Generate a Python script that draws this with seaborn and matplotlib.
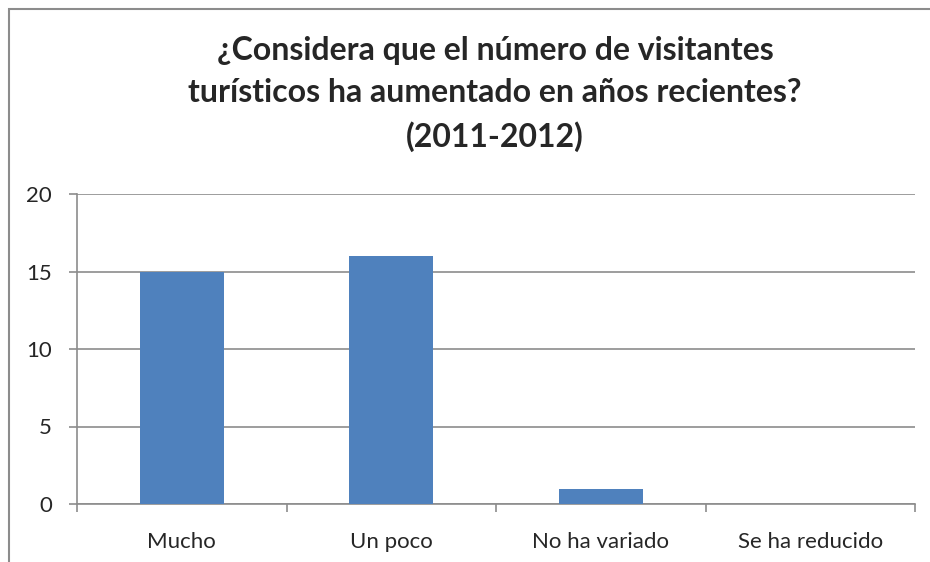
import matplotlib
matplotlib.use("Agg")
import matplotlib.pyplot as plt
import seaborn as sns
import pandas as pd
from matplotlib.patches import Rectangle

categories = ["Mucho", "Un poco", "No ha variado", "Se ha reducido"]
values = [15, 16, 1, 0]
yticks = [0, 5, 10, 15, 20]
title = "¿Considera que el número de visitantes\nturísticos ha aumentado en años recientes?\n(2011-2012)"

sns.set_style("white")
plt.rcParams['font.family'] = ['Lato', 'DejaVu Sans']

df = pd.DataFrame({"cat": categories, "val": values})

fig = plt.figure(figsize=(9.3, 5.62), dpi=100)
ax = fig.add_axes([77 / 930, 58 / 562, 838 / 930, 310 / 562])

sns.barplot(data=df, x="cat", y="val", color="#4F81BD", width=0.4,
            saturation=1, linewidth=0, ax=ax, zorder=3)

ax.set_ylim(0, 20)
ax.set_xlim(-0.5, 3.5)
ax.set_yticks(yticks)
ax.yaxis.grid(True, color="#8c8c8c", linewidth=1.2, zorder=0)
ax.set_axisbelow(True)
ax.set_xlabel("")
ax.set_ylabel("")

for s in ["top", "right"]:
    ax.spines[s].set_visible(False)
for s in ["left", "bottom"]:
    ax.spines[s].set_color("#8c8c8c")
    ax.spines[s].set_linewidth(1.2)

ax.tick_params(axis="y", length=6, width=1.2, color="#8c8c8c",
               labelsize=16, pad=12, left=True)
ax.set_xticks([-0.5, 0.5, 1.5, 2.5, 3.5], minor=True)
ax.tick_params(axis="x", which="major", length=0, labelsize=16, pad=20)
ax.tick_params(axis="x", which="minor", length=6, width=1.2,
               color="#8c8c8c", bottom=True)

fig.text(495 / 930, 1 - 94 / 562, title, ha="center", va="center",
         fontsize=23, fontweight="bold", linespacing=1.55)

fig.patches.append(Rectangle((9 / 930, -0.05), 1.0, 1 - 9 / 562 + 0.05,
                             transform=fig.transFigure, fill=False,
                             edgecolor="#8c8c8c", linewidth=1.5))

fig.savefig("out.png", dpi=100, facecolor="white")
